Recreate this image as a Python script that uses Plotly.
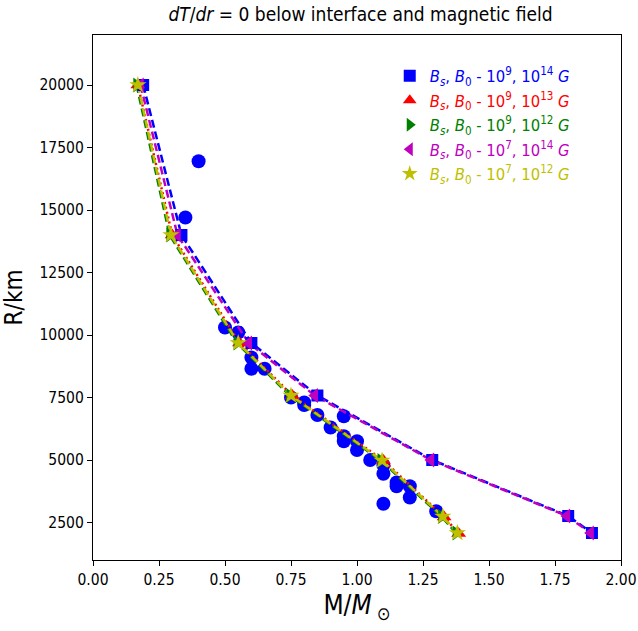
import plotly.graph_objects as go

# Observed data (blue circles)
obs_m = [0.40, 0.35, 0.50, 0.55, 0.60, 0.60, 0.65, 0.75, 0.80, 0.80, 0.85, 0.90, 0.95, 0.95, 0.95,
         1.00, 1.00, 1.05, 1.10, 1.10, 1.10, 1.15, 1.15, 1.20, 1.20, 1.30]
obs_r = [16950, 14700, 10300, 10100, 9100, 8650, 8650, 7500, 7300, 7200, 6800, 6300, 6750, 5950, 5750,
         5750, 5400, 5000, 4800, 4450, 3250, 4100, 3950, 3950, 3500, 2950]

# Model series
m_b9_14 = [0.19, 0.335, 0.60, 0.85, 1.285, 1.80, 1.89]
r_b9_14 = [20000, 14000, 9680, 7580, 5000, 2760, 2080]
m_b9_13 = [0.17, 0.30, 0.555, 0.755, 1.10, 1.33, 1.385]
r_b9_13 = [20000, 14000, 9680, 7580, 4980, 2720, 2060]
m_b9_12 = [0.165, 0.29, 0.545, 0.745, 1.09, 1.32, 1.375]
r_b9_12 = [20000, 14000, 9680, 7580, 4980, 2740, 2080]
m_b7_14 = [0.18, 0.32, 0.59, 0.84, 1.28, 1.795, 1.885]
r_b7_14 = [20000, 14000, 9680, 7580, 5000, 2760, 2080]
m_b7_12 = [0.17, 0.295, 0.55, 0.75, 1.095, 1.325, 1.38]
r_b7_12 = [20000, 14000, 9680, 7580, 4980, 2740, 2080]

x_ticks = [0.0, 0.25, 0.5, 0.75, 1.0, 1.25, 1.5, 1.75, 2.0]
y_ticks = [2500, 5000, 7500, 10000, 12500, 15000, 17500, 20000]

FONT = "DejaVu Sans Condensed, DejaVu Sans, sans-serif"

def lab(color, b, b0):
    return (f'<span style="color:{color}"><i>B<sub>s</sub></i>, <i>B</i><sub>0</sub> - '
            f'10<sup>{b}</sup>, 10<sup>{b0}</sup> <i>G</i></span>')

series = [
    (m_b9_14, r_b9_14, "#0000ff", "square", 12, lab("#0000ff", 9, 14), "8px,4px"),
    (m_b9_13, r_b9_13, "#ff0000", "triangle-up", 13, lab("#ff0000", 9, 13), "2px,3px"),
    (m_b9_12, r_b9_12, "#008000", "triangle-right", 13, lab("#008000", 9, 12), "8px,4px"),
    (m_b7_14, r_b7_14, "#bf00bf", "triangle-left", 13, lab("#bf00bf", 7, 14), "8px,4px"),
    (m_b7_12, r_b7_12, "#bfbf00", "star", 13, lab("#bfbf00", 7, 12), "8px,4px"),
]

fig = go.Figure()
fig.add_trace(go.Scatter(x=obs_m, y=obs_r, mode="markers",
                         marker=dict(symbol="circle", size=14, color="#0000ff"),
                         showlegend=False))
for mx, ry, c, sym, sz, name, dash in series:
    fig.add_trace(go.Scatter(x=mx, y=ry, mode="lines",
                             line=dict(color=c, width=2.5, dash=dash),
                             showlegend=False))
for mx, ry, c, sym, sz, name, dash in series:
    fig.add_trace(go.Scatter(x=mx, y=ry, mode="markers", name=name,
                             marker=dict(symbol=sym, size=sz, color=c,
                                         line=dict(width=0))))

axis_common = dict(showline=True, linecolor="black", linewidth=1.2, mirror=True,
                   ticks="outside", ticklen=5, tickcolor="black", showgrid=False,
                   zeroline=False, automargin=False,
                   tickfont=dict(family=FONT, size=15.5, color="black"))

fig.update_layout(
    width=638, height=631,
    margin=dict(l=93, r=17, t=35, b=71),
    paper_bgcolor="white", plot_bgcolor="white",
    font=dict(family=FONT, color="black"),
    title=dict(text="<i>dT</i>/<i>dr</i> = 0 below interface and magnetic field",
               x=0.565, xanchor="center", y=0.988, yanchor="top",
               font=dict(family=FONT, size=19, color="black")),
    xaxis=dict(range=[0, 2], tickvals=x_ticks,
               ticktext=[f"{v:.2f}" for v in x_ticks],
               title=dict(text="M/<i>M</i><sub> ⊙</sub>", font=dict(family=FONT, size=26), standoff=8),
               **axis_common),
    yaxis=dict(range=[1000, 22000], tickvals=y_ticks,
               ticktext=[str(v) for v in y_ticks],
               title=dict(text="R/km", font=dict(family=FONT, size=24), standoff=10),
               **axis_common),
    legend=dict(x=0.562, y=0.955, xanchor="left", yanchor="top",
                bgcolor="rgba(0,0,0,0)", borderwidth=0,
                font=dict(family=FONT, size=16.5), itemsizing="constant",
                tracegroupgap=0),
)

fig.write_html("out.html")
